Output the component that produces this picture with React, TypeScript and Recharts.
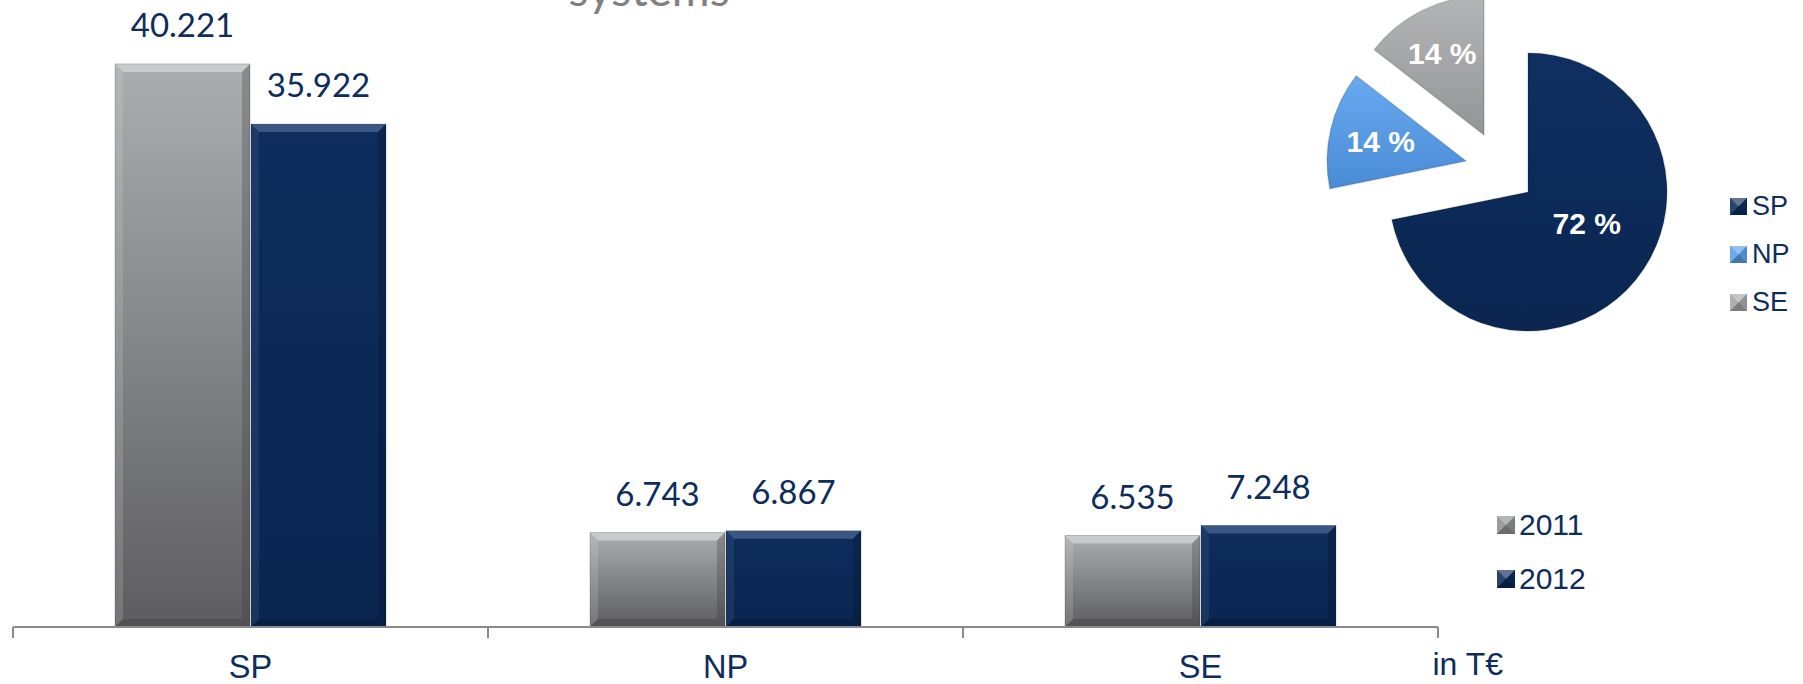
import React from 'react';
import { BarChart, Bar, XAxis, YAxis, LabelList, Legend, PieChart, Pie, Cell } from 'recharts';

// ---------- data ----------
const categories = ['SP', 'NP', 'SE'];
const values2011 = [40221, 6743, 6535];
const values2012 = [35922, 6867, 7248];
const seriesNames = ['2011', '2012'];
const unitLabel = 'in T€';
const titleFragment = 'systems';

// ---------- layout / style ----------
const W = 1803;
const H = 684;
const MARGIN = { top: 11, right: 365, bottom: 0, left: 13 };
const NAVY_TEXT = '#0d2d5c';
const AXIS_GREY = '#8a8a8a';
const ARIAL = '"Liberation Sans", Arial, sans-serif';
const CALIBRI_LIKE = 'Lato, "Open Sans", sans-serif';

const barData = categories.map((c, i) => ({ cat: c, a: values2011[i], b: values2012[i] }));
const pieData = categories.map((c, i) => ({ name: c, value: values2012[i] }));

const fmt = (v: number) => String(Math.round(v)).replace(/\B(?=(\d{3})+(?!\d))/g, '.');

const barStyles = [
  { grad: 'url(#gGrey)', swatch: '#8e8f91', light: '#e4e5e6', dark: '#3c3c3e' },
  { grad: 'url(#gNavy)', swatch: '#0b2856', light: '#5f7aa6', dark: '#041530' },
];
const pieFills = ['url(#pSP)', 'url(#pNP)', 'url(#pSE)'];
const pieSwatch = ['#0c2b5a', '#5a9ee6', '#a5a6a8'];
const pieCenters = [
  { cx: 1528, cy: 192 },
  { cx: 1466, cy: 161 },
  { cx: 1484, cy: 135 },
];
const pieLabelFrac = [0.48, 0.63, 0.65];
const pieLabelNudge = [
  { dx: 7, dy: -11 },
  { dx: 0, dy: 0 },
  { dx: -2, dy: 0 },
];
const PIE_R = 139;

function BevelBar(props: any) {
  const { x, y, width, height, styleIdx } = props;
  if (!height || height <= 0) return null;
  const s = barStyles[styleIdx];
  const b = Math.min(8, width / 4, height / 4);
  const x2 = x + width;
  const y2 = y + height;
  return (
    <g>
      <rect x={x} y={y} width={width} height={height} fill={s.grad} />
      <polygon points={`${x},${y} ${x2},${y} ${x2 - b},${y + b} ${x + b},${y + b}`} fill={s.light} opacity={0.55} />
      <polygon points={`${x},${y} ${x + b},${y + b} ${x + b},${y2 - b} ${x},${y2}`} fill={s.light} opacity={0.18} />
      <polygon points={`${x2},${y} ${x2},${y2} ${x2 - b},${y2 - b} ${x2 - b},${y + b}`} fill={s.dark} opacity={0.3} />
      <polygon points={`${x},${y2} ${x + b},${y2 - b} ${x2 - b},${y2 - b} ${x2},${y2}`} fill={s.dark} opacity={0.35} />
      <rect x={x} y={y} width={width} height={height} fill="none" stroke="rgba(0,0,0,0.18)" strokeWidth={1} />
    </g>
  );
}

function Swatch({ color, size }: { color: string; size: number }) {
  const s = size;
  const h = s / 2;
  return (
    <svg width={s} height={s} style={{ display: 'block', flex: 'none' }}>
      <rect x={0} y={0} width={s} height={s} fill={color} />
      <polygon points={`0,0 ${s},0 ${h},${h}`} fill="#ffffff" opacity={0.35} />
      <polygon points={`0,0 ${h},${h} 0,${s}`} fill="#ffffff" opacity={0.12} />
      <polygon points={`${s},0 ${s},${s} ${h},${h}`} fill="#000000" opacity={0.12} />
      <polygon points={`0,${s} ${h},${h} ${s},${s}`} fill="#000000" opacity={0.25} />
    </svg>
  );
}

const FALLBACK_HALF_BAND = (W - MARGIN.left - MARGIN.right) / categories.length / 2;

function CatTick(props: any) {
  const { x, y, payload, index } = props;
  const half = (payload && payload.offset) || FALLBACK_HALF_BAND;
  const i = typeof index === 'number' ? index : payload.index;
  const isLast = i === categories.length - 1;
  return (
    <g>
      <line x1={x - half} x2={x - half} y1={y} y2={y + 11} stroke={AXIS_GREY} strokeWidth={2} />
      {isLast && <line x1={x + half} x2={x + half} y1={y} y2={y + 11} stroke={AXIS_GREY} strokeWidth={2} />}
      <text x={x} y={y + 51} textAnchor="middle" fontFamily={ARIAL} fontSize={32.5} fill={NAVY_TEXT}>
        {payload.value}
      </text>
      {isLast && (
        <text x={x + half - 5.5} y={y + 48} textAnchor="start" fontFamily={ARIAL} fontSize={32} fill={NAVY_TEXT}>
          {unitLabel}
        </text>
      )}
    </g>
  );
}

function BarLegend(props: any) {
  const payload = props.payload || [];
  return (
    <div>
      {payload.map((p: any, i: number) => (
        <div key={i} style={{ display: 'flex', alignItems: 'center', height: 54 }}>
          <Swatch color={barStyles[i].swatch} size={18} />
          <span style={{ marginLeft: 4, fontFamily: ARIAL, fontSize: 30, color: NAVY_TEXT, lineHeight: '30px' }}>{p.value}</span>
        </div>
      ))}
    </div>
  );
}

function PieLegend() {
  return (
    <div>
      {categories.map((c, i) => (
        <div key={c} style={{ display: 'flex', alignItems: 'center', height: 48 }}>
          <Swatch color={pieSwatch[i]} size={17} />
          <span style={{ marginLeft: 5, fontFamily: ARIAL, fontSize: 27, color: NAVY_TEXT, lineHeight: '27px' }}>{c}</span>
        </div>
      ))}
    </div>
  );
}

const makePieLabel = (target: number) => (p: any) => {
  if (p.index !== target) return <g />;
  const RAD = Math.PI / 180;
  const r = p.outerRadius * pieLabelFrac[target];
  const lx = p.cx + r * Math.cos(-p.midAngle * RAD) + pieLabelNudge[target].dx;
  const ly = p.cy + r * Math.sin(-p.midAngle * RAD) + pieLabelNudge[target].dy;
  return (
    <text x={lx} y={ly} textAnchor="middle" dominantBaseline="central" fontFamily={ARIAL} fontWeight="bold" fontSize={30} fill="#ffffff">
      {`${Math.round(p.percent * 100)} %`}
    </text>
  );
};

export default function App() {
  return (
    <div style={{ position: 'absolute', left: 0, top: 0, width: W, height: H, background: '#ffffff', overflow: 'hidden' }}>
      <svg width={W} height={H} style={{ position: 'absolute', left: 0, top: 0, pointerEvents: 'none' }}>
        <defs>
          <linearGradient id="gGrey" x1="0" y1="0" x2="0" y2="1">
            <stop offset="0" stopColor="#abadaf" />
            <stop offset="1" stopColor="#5d5d60" />
          </linearGradient>
          <linearGradient id="gNavy" x1="0" y1="0" x2="0" y2="1">
            <stop offset="0" stopColor="#0e2d5c" />
            <stop offset="1" stopColor="#0a2550" />
          </linearGradient>
          <linearGradient id="pSP" x1="0" y1="0" x2="0" y2="1">
            <stop offset="0" stopColor="#0f2f60" />
            <stop offset="1" stopColor="#0a2651" />
          </linearGradient>
          <linearGradient id="pNP" x1="0" y1="0" x2="0" y2="1">
            <stop offset="0" stopColor="#68aaf0" />
            <stop offset="1" stopColor="#4a8bd6" />
          </linearGradient>
          <linearGradient id="pSE" x1="0" y1="0" x2="0" y2="1">
            <stop offset="0" stopColor="#b4b5b7" />
            <stop offset="1" stopColor="#949597" />
          </linearGradient>
        </defs>
        <text x={649} y={6} textAnchor="middle" fontFamily={CALIBRI_LIKE} fontSize={46} fill="#808080">
          {titleFragment}
        </text>
      </svg>

      <div style={{ position: 'absolute', left: 0, top: 0 }}>
        <BarChart width={W} height={H} data={barData} margin={MARGIN} barSize={135} barGap={1}>
          <YAxis hide domain={[0, 44000]} />
          <XAxis
            dataKey="cat"
            interval={0}
            tickLine={false}
            tickSize={0}
            tickMargin={0}
            height={57}
            axisLine={{ stroke: AXIS_GREY, strokeWidth: 2 }}
            tick={<CatTick />}
          />
          <Bar
            dataKey="a"
            name={seriesNames[0]}
            fill={barStyles[0].swatch}
            isAnimationActive={false}
            shape={(p: any) => <BevelBar {...p} styleIdx={0} />}
          >
            <LabelList
              dataKey="a"
              content={(p: any) => (
                <text x={p.x + p.width / 2} y={p.y - 27} textAnchor="middle" fontFamily={CALIBRI_LIKE} fontSize={33} fill={NAVY_TEXT}>
                  {fmt(p.value)}
                </text>
              )}
            />
          </Bar>
          <Bar
            dataKey="b"
            name={seriesNames[1]}
            fill={barStyles[1].swatch}
            isAnimationActive={false}
            shape={(p: any) => <BevelBar {...p} styleIdx={1} />}
          >
            <LabelList
              dataKey="b"
              content={(p: any) => (
                <text x={p.x + p.width / 2} y={p.y - 27} textAnchor="middle" fontFamily={CALIBRI_LIKE} fontSize={33} fill={NAVY_TEXT}>
                  {fmt(p.value)}
                </text>
              )}
            />
          </Bar>
          <Legend
            layout="vertical"
            align="center"
            verticalAlign="middle"
            content={<BarLegend />}
            wrapperStyle={{ left: 1497, top: 498, width: 'auto' }}
          />
        </BarChart>
      </div>

      <div style={{ position: 'absolute', left: 0, top: 0 }}>
        <PieChart width={W} height={H} margin={{ top: 0, right: 0, bottom: 0, left: 0 }}>
          {pieCenters.map((c, t) => (
            <Pie
              key={t}
              data={pieData}
              dataKey="value"
              nameKey="name"
              cx={c.cx}
              cy={c.cy}
              outerRadius={PIE_R}
              startAngle={90}
              endAngle={-270}
              stroke="none"
              labelLine={false}
              label={makePieLabel(t)}
              isAnimationActive={false}
            >
              {pieData.map((_, j) => (
                <Cell
                  key={j}
                  fill={j === t ? pieFills[j] : 'transparent'}
                  stroke={j === t ? 'rgba(0,0,0,0.15)' : 'none'}
                  strokeWidth={1.5}
                />
              ))}
            </Pie>
          ))}
          <Legend
            layout="vertical"
            align="center"
            verticalAlign="middle"
            content={<PieLegend />}
            wrapperStyle={{ left: 1730, top: 182, width: 'auto' }}
          />
        </PieChart>
      </div>
    </div>
  );
}
